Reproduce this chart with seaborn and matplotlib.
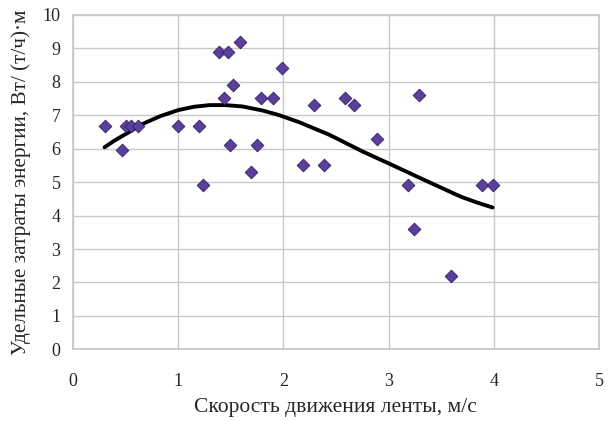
import pandas as pd
import matplotlib.pyplot as plt
import seaborn as sns

sns.set_theme(style="white")
plt.rcParams["font.family"] = ["Liberation Serif", "DejaVu Serif"]

# measured points
speed = [0.30, 0.47, 0.50, 0.55, 0.62, 1.00, 1.20, 1.24, 1.39, 1.47, 1.59,
         1.44, 1.52, 1.49, 1.69, 1.75, 1.79, 1.90, 1.99, 2.19, 2.29, 2.39,
         2.59, 2.67, 2.89, 3.19, 3.24, 3.29, 3.59, 3.89, 3.99]
energy = [6.67, 5.95, 6.67, 6.67, 6.67, 6.67, 6.67, 4.90, 8.90, 8.90, 9.20,
          7.50, 7.90, 6.10, 5.30, 6.10, 7.50, 7.50, 8.40, 5.50, 7.30, 5.50,
          7.50, 7.30, 6.30, 4.90, 3.60, 7.60, 2.20, 4.90, 4.90]

# trend line
trend_speed = [0.30, 0.40, 0.52, 0.65, 0.83, 1.00, 1.15, 1.30, 1.45, 1.61,
               1.80, 1.95, 2.15, 2.44, 2.75, 3.00, 3.37, 3.69, 3.85, 3.99]
trend_energy = [6.04, 6.25, 6.47, 6.72, 6.97, 7.15, 7.25, 7.30, 7.30, 7.26,
                7.14, 7.01, 6.79, 6.41, 5.92, 5.56, 5.02, 4.56, 4.38, 4.24]

x_ticks = [0, 1, 2, 3, 4, 5]
y_ticks = list(range(0, 11))

df = pd.DataFrame({"speed": speed, "energy": energy})
trend = pd.DataFrame({"speed": trend_speed, "energy": trend_energy})

fig, ax = plt.subplots(figsize=(6.08, 4.21), dpi=100)
sns.lineplot(data=trend, x="speed", y="energy", color="black", lw=2.8,
             sort=True, ax=ax)
sns.scatterplot(data=df, x="speed", y="energy", marker="D", s=42,
                color="#5b3f9c", edgecolor="#2e2060", linewidth=0.6,
                ax=ax, zorder=3)

ax.set_xlim(0, 5)
ax.set_ylim(0, 10)
ax.set_xticks(x_ticks)
ax.set_yticks(y_ticks)
ax.grid(True, color="#c8c8c8", lw=1)
for s in ax.spines.values():
    s.set_color("#c8c8c8")
ax.tick_params(labelsize=13, length=0)
ax.tick_params(axis="x", pad=17)
ax.tick_params(axis="y", pad=9)
ax.set_xlabel("Скорость движения ленты, м/с", fontsize=15.5, labelpad=6)
ax.set_ylabel("Удельные затраты энергии, Вт/ (т/ч)·м", fontsize=15.3,
              labelpad=8)

fig.subplots_adjust(left=0.12, right=0.985, top=0.965, bottom=0.17)
fig.savefig("out.png")
